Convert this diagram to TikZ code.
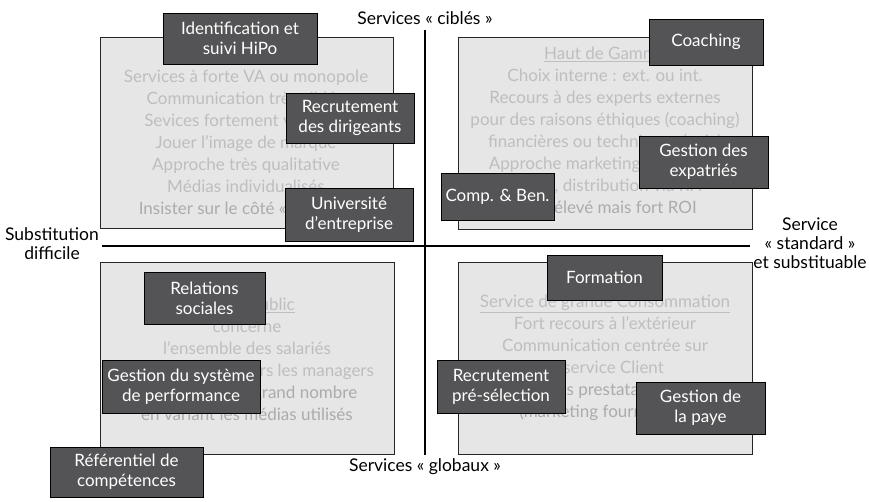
\documentclass[tikz,border=0pt]{standalone}
\usepackage{fontspec}
\setmainfont{Lato}
\definecolor{quadfill}{HTML}{E6E6E7}
\definecolor{boxgray}{HTML}{545456}
\definecolor{fadegray}{HTML}{BEBEC0}
\definecolor{fadedark}{HTML}{ABABAD}
\tikzset{
  quad/.style={draw=black!85, fill=quadfill, line width=0.9pt},
  axisline/.style={draw=black, line width=1.8pt},
  hrbox/.style={draw=black, fill=boxgray, text=white, align=center, inner sep=0pt,
    line width=0.8pt, font=\fontsize{17}{20}\selectfont},
  faded/.style={text=fadegray, align=center, inner sep=0pt,
    font=\fontsize{17}{22}\selectfont},
  axislabel/.style={align=center, inner sep=0pt, font=\fontsize{17.5}{19}\selectfont}
}
\begin{document}
\begin{tikzpicture}[x=1pt, y=-1pt]
  \useasboundingbox (0,0) rectangle (869,501);

  % quadrants
  \draw[quad] (100,37) rectangle (393,228);
  \draw[quad] (458,37) rectangle (752,229);
  \draw[quad] (100,262) rectangle (394,454);
  \draw[quad] (458,262) rectangle (752,454);

  % texts of the quadrants
  \node[faded] (tltext) at (246,143.5) {Services à forte VA ou monopole\\
    Communication très ciblée\\ Sevices fortement valorisés\\
    Jouer l'image de marque\\ Approche très qualitative\\
    Médias individualisés\\ \textcolor{fadedark}{Insister sur le côté « unique »}};
  \node[faded] (trtext) at (605,130.5) {\underline{Haut de Gamme}\\
    Choix interne : ext. ou int.\\ Recours à des experts externes\\
    pour des raisons éthiques (coaching)\\ financières ou techniques (paie)\\
    Approche marketing très ciblée\\ Offres, distribution via RH\\
    \textcolor{fadedark}{Coût élevé mais fort ROI}};
  \node[faded] (bltext) at (247,359) {\underline{Grand Public}\\ concerne\\
    l'ensemble des salariés\\ Communication vers les managers\\
    \textcolor{fadedark}{Toucher le plus grand nombre}\\
    \textcolor{fadedark}{en variant les médias utilisés}};
  \node[faded] (brtext) at (605,358) {\underline{Service de grande Consommation}\\
    Fort recours à l'extérieur\\ Communication centrée sur\\
    le service Client\\ \textcolor{fadedark}{Des prestataires}\\
    \textcolor{fadedark}{(marketing fournisseur)}};

  % axes
  \coordinate (top) at (425,30);
  \coordinate (bottom) at (425,455);
  \coordinate (left) at (102,246);
  \coordinate (right) at (750,246);
  \draw[axisline] (top) -- (bottom);
  \draw[axisline] (left) -- (right);

  \node[axislabel] (cibles) at (425,18) {Services « ciblés »};
  \node[axislabel] (globaux) at (425,467) {Services « globaux »};
  \node[axislabel] (difficile) at (52,244) {Substitution\\ difficile};
  \node[axislabel] (standard) at (810,243) {Service\\ « standard »\\ et substituable};

  % processes
  \node[hrbox, minimum width=154pt, minimum height=51pt] (hipo) at (240,38.5) {Identification et\\ suivi HiPo};
  \node[hrbox, minimum width=128pt, minimum height=50pt] (dirigeants) at (350,118) {Recrutement\\ des dirigeants};
  \node[hrbox, minimum width=128pt, minimum height=53pt] (universite) at (349,214.5) {Université\\ d'entreprise};
  \node[hrbox, minimum width=114pt, minimum height=46pt] (coaching) at (706,42) {Coaching};
  \node[hrbox, minimum width=129pt, minimum height=52pt] (expatries) at (703.5,162) {Gestion des\\ expatriés};
  \node[hrbox, minimum width=113pt, minimum height=47pt] (compben) at (497.5,196.5) {Comp. \& Ben.};
  \node[hrbox, minimum width=121pt, minimum height=52pt] (sociales) at (204.5,298) {Relations\\ sociales};
  \node[hrbox, minimum width=158pt, minimum height=53pt] (performance) at (181,386.5) {Gestion du système\\ de performance};
  \node[hrbox, minimum width=153pt, minimum height=50pt] (referentiel) at (126.5,472) {Référentiel de\\ compétences};
  \node[hrbox, minimum width=115pt, minimum height=45pt] (formation) at (604.5,277.5) {Formation};
  \node[hrbox, minimum width=128pt, minimum height=53pt] (preselection) at (501,386.5) {Recrutement\\ pré-sélection};
  \node[hrbox, minimum width=129pt, minimum height=52pt] (paye) at (700.5,408) {Gestion de\\ la paye};
\end{tikzpicture}
\end{document}
